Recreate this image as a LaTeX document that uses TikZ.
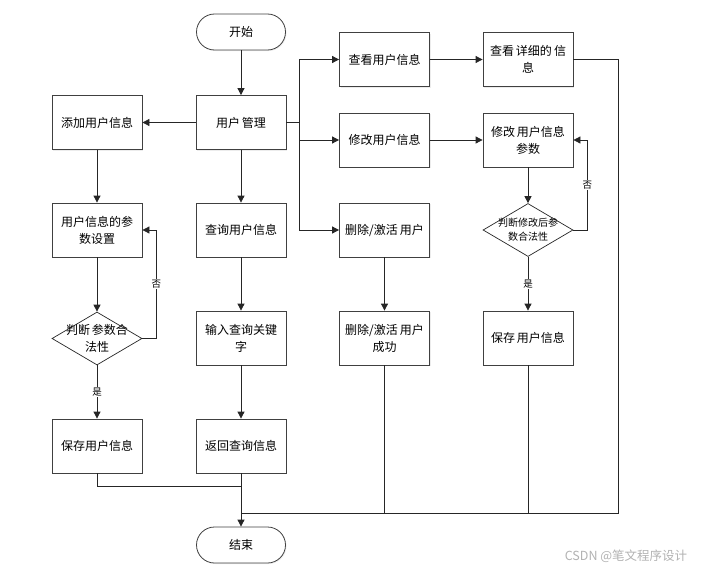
\documentclass[tikz,border=0pt]{standalone}
\usepackage{fontspec}
\setmainfont{Noto Sans CJK SC}
\usetikzlibrary{arrows.meta,shapes.geometric,shadows}

\newcommand{\gp}{\hspace{2pt}}

\tikzset{
  box/.style = {draw = black!75, line width = 0.8pt, fill = white, minimum width = 90pt, minimum height = 54pt, align = center, inner sep = 1pt, font = \fontsize{12}{17}\selectfont, drop shadow = {opacity = 0.15, shadow xshift = 1pt, shadow yshift = -1pt}},
  term/.style = {box, rounded corners = 18pt, minimum width = 89pt, minimum height = 36pt},
  decide/.style = {draw = black!85, line width = 0.7pt, fill = white, diamond, minimum width = 90pt, minimum height = 53pt, inner sep = 0pt},
  txt/.style = {align = center, font = \fontsize{12}{17}\selectfont},
  arr/.style = {draw = black!85, line width = 0.8pt, -{Triangle[length = 7pt, width = 7pt]}},
  ln/.style = {draw = black!85, line width = 0.8pt},
  tag/.style = {fill = white, inner sep = 1pt, font = \fontsize{9.5}{10}\selectfont}
}

\begin{document}
\begin{tikzpicture}[x = 1pt, y = -1pt]
\useasboundingbox (0, 0) rectangle (701, 570);

% first and second column
\node[term] (start) at (241, 32) {开始};
\node[box] (mgmt) at (241, 122.5) {用户\gp 管理};
\node[box] (add) at (97, 122.5) {添加用户信息};
\node[box] (param) at (97, 230) {用户信息的参\\数设置};
\node[decide, label = {[txt]center:判断\gp 参数合\\法性}] (chk) at (97, 338.5) {};
\node[box] (saveL) at (97, 446) {保存用户信息};
\node[box] (query) at (241, 230) {查询用户信息};
\node[box] (input) at (241, 338) {输入查询关键\\字};
\node[box] (ret) at (241, 446) {返回查询信息};
\node[term] (end) at (241, 545) {结束};

% third and fourth column
\node[box] (view) at (384.5, 59.5) {查看用户信息};
\node[box] (detail) at (528, 59.5) {查看\gp 详细的\gp 信\\息};
\node[box] (modify) at (384.5, 140) {修改用户信息};
\node[box] (modp) at (528, 140) {修改\gp 用户信息\\参数};
\node[box] (del) at (384.5, 230) {删除/激活\gp 用户};
\node[decide, label = {[txt, font = \fontsize{10}{14}\selectfont]center:判断修改后参\\数合法性}] (chk2) at (528, 230) {};
\node[box] (delok) at (384.5, 338) {删除/激活\gp 用户\\成功};
\node[box] (saveR) at (528, 338) {保存\gp 用户信息};

\node[text = black!30, font = \fontsize{12.5}{14}\selectfont] (mark) at (626, 556) {CSDN @笔文程序设计};

% connectors
\draw[arr] (start) -- (mgmt);
\draw[arr] (mgmt) -- (add);
\draw[arr] (mgmt) -- (query);
\draw[arr] (add) -- (param);
\draw[arr] (param) -- (chk);
\draw[arr] (chk.east) -- ++(14, 0) |- (param.east) node[tag, pos = 0.25] {否};
\draw[arr] (chk) -- (saveL) node[tag, midway] {是};
\draw[arr] (query) -- (input);
\draw[arr] (input) -- (ret);

\draw[ln] (mgmt.east) -- ++(13, 0) coordinate (trunk);
\draw[arr] (trunk) |- (view.west);
\draw[arr] (trunk) |- (modify.west);
\draw[arr] (trunk) |- (del.west);
\draw[arr] (view) -- (detail);
\draw[arr] (modify) -- (modp);
\draw[arr] (modp) -- (chk2);
\draw[arr] (chk2.east) -- ++(14, 0) |- (modp.east) node[tag, pos = 0.25] {否};
\draw[arr] (chk2) -- (saveR) node[tag, midway] {是};
\draw[arr] (del) -- (delok);

% merging into the end
\coordinate (busR) at (618, 513);
\coordinate (busL) at (241, 513);
\draw[ln] (saveL.south) |- ([yshift = -13pt]ret.south);
\draw[ln] (detail.east) -| (busR) -- (busL);
\draw[ln] (delok.south) -- (delok.south |- busR);
\draw[ln] (saveR.south) -- (saveR.south |- busR);
\draw[arr] (ret) -- (end);
\end{tikzpicture}
\end{document}
